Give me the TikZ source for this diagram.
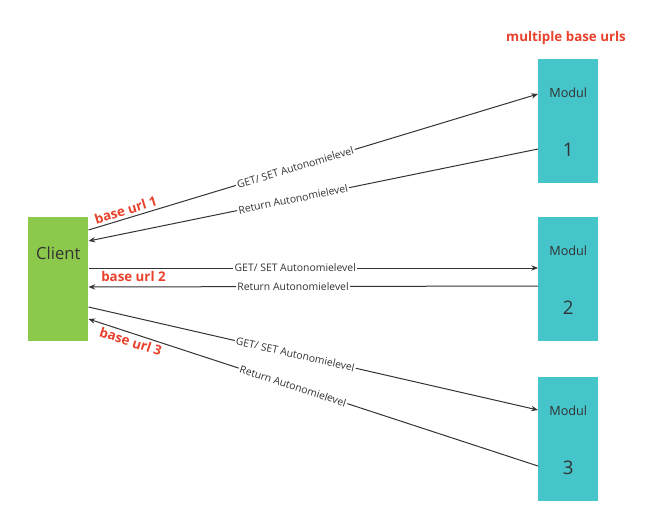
\documentclass[tikz,border=0pt]{standalone}
\usepackage{fontspec}
\setmainfont{Open Sans}
\usetikzlibrary{arrows.meta,calc}
\definecolor{clientgreen}{HTML}{8BC84B}
\definecolor{modulcyan}{HTML}{45C4C9}
\definecolor{urlred}{HTML}{E8412C}
\definecolor{textgray}{HTML}{333333}
\tikzset{x=0.75pt, y=-0.75pt,
    box/.style={rectangle, minimum width=45pt, minimum height=93pt, inner sep=0pt},
    clientbox/.style={box, fill=clientgreen},
    modulbox/.style={box, fill=modulcyan},
    msg/.style={draw=textgray, line width=0.75pt, -{Stealth[length=5pt,width=4pt]}},
    msglabel/.style={sloped, fill=white, inner sep=1pt, text=textgray,
        font=\fontsize{7.8}{9}\selectfont},
    urllabel/.style={text=urlred, inner sep=2pt, font=\bfseries\fontsize{10}{12}\selectfont},
    }

\begin{document}
\begin{tikzpicture}
	\useasboundingbox (0,0) rectangle (647,517);
	% client
	\node[clientbox, anchor=north west] (client) at (28,217) {};
	\node[text=textgray, font=\fontsize{12.5}{14}\selectfont] (clientname)
		at ($(client.north)+(0,36)$) {Client};
	% modules
	\foreach \i/\y in {1/59, 2/217, 3/377} {
		\node[modulbox, anchor=north west] (m\i) at (538,\y) {};
		\node[text=textgray, font=\fontsize{9.5}{11}\selectfont] (mname\i)
			at ($(m\i.north)+(0,34)$) {Modul};
		\node[text=textgray, font=\fontsize{14}{16}\selectfont] (mnum\i)
			at ($(m\i.north)+(0,91)$) {\i};
	}
	\node[urllabel] (multi) at (566,38) {multiple base urls};
	% module 1
	\draw[msg] ($(client.north east)+(0,13)$)
		-- node[msglabel, pos=0.46] {GET/ SET Autonomielevel}
		   node[urllabel, sloped, above, pos=0.088] {base url 1}
		($(m1.north west)+(0,35)$);
	\draw[msg] ($(m1.north west)+(0,90)$)
		-- node[msglabel, pos=0.545] {Return Autonomielevel}
		($(client.north east)+(0,24)$);
	% module 2
	\draw[msg] ($(client.north east)+(0,51)$)
		-- node[msglabel, pos=0.46] {GET/ SET Autonomielevel}
		   node[urllabel, below, pos=0.1] {base url 2}
		($(m2.north west)+(0,51)$);
	\draw[msg] ($(m2.north west)+(0,69)$)
		-- node[msglabel, pos=0.545] {Return Autonomielevel}
		($(client.north east)+(0,70)$);
	% module 3
	\draw[msg] ($(client.north east)+(0,90)$)
		-- node[msglabel, pos=0.46] {GET/ SET Autonomielevel}
		($(m3.north west)+(0,33)$);
	\draw[msg] ($(m3.north west)+(0,89)$)
		-- node[msglabel, pos=0.545] {Return Autonomielevel}
		   node[urllabel, sloped, below, pos=0.9] {base url 3}
		($(client.north east)+(0,102)$);
\end{tikzpicture}
\end{document}
